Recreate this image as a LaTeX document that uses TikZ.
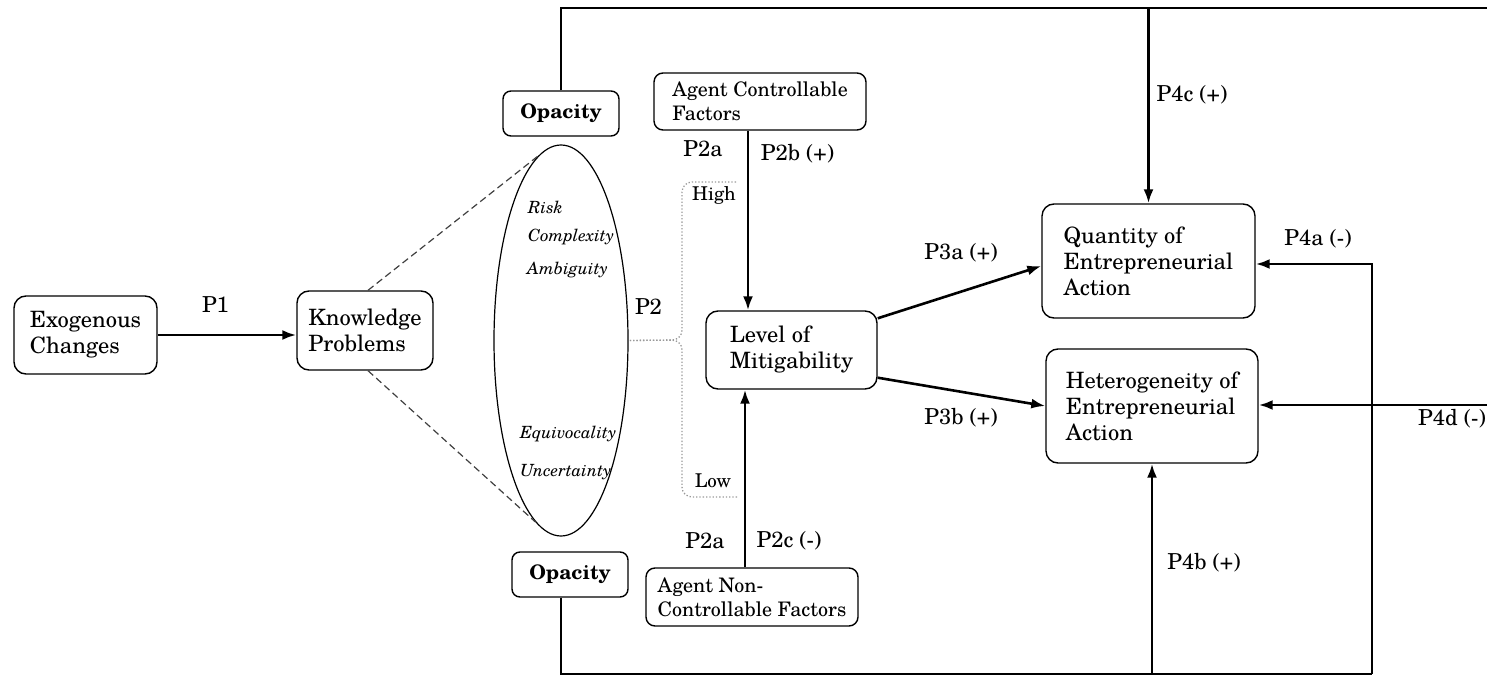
\documentclass[tikz,border=0pt]{standalone}
\usepackage{fontspec}
\setmainfont{TeX Gyre Schola}
\usetikzlibrary{shapes.geometric,arrows.meta,calc}
\begin{document}
\begin{tikzpicture}[x=1pt,y=-1pt,
  box/.style={draw, line width=1.4pt, rounded corners=12pt, align=left, inner sep=0pt,
              font=\fontsize{22.5}{26}\selectfont},
  factor/.style={box, rounded corners=9pt, font=\fontsize{20}{24}\selectfont},
  opbox/.style={box, rounded corners=8pt, align=center, font=\fontsize{20}{24}\selectfont\bfseries,
                minimum width=116pt, minimum height=45pt},
  kind/.style={anchor=west, inner sep=0pt, font=\fontsize{16.8}{19}\selectfont\itshape},
  lab/.style={inner sep=0pt, font=\fontsize{22}{26}\selectfont},
  level/.style={inner sep=0pt, font=\fontsize{19}{22}\selectfont},
  link/.style={line width=2.6pt},
  arr/.style={line width=2.6pt, -{Latex[length=14pt,width=10pt]}},
  brace/.style={dotted, line width=1.3pt, gray!80, rounded corners=10pt},
  guide/.style={dash pattern=on 7pt off 4pt, line width=1.2pt, gray!50!black}]
\useasboundingbox (0,0) rectangle (1487,676);

% main boxes
\node[box, minimum width=143pt, minimum height=78pt] (exo) at (85.5,335) {Exogenous\\Changes};
\node[box, minimum width=136pt, minimum height=79pt] (know) at (365,330.5) {Knowledge\\Problems};
\node[box, minimum width=171pt, minimum height=78pt] (mit) at (791.5,350) {Level of\\Mitigability};
\node[box, minimum width=213pt, minimum height=114pt] (qty) at (1148.5,261) {Quantity of\\Entrepreneurial\\Action};
\node[box, minimum width=212pt, minimum height=114pt] (het) at (1152,406) {Heterogeneity of\\Entrepreneurial\\Action};

% factor boxes
\node[factor, minimum width=212pt, minimum height=57pt] (acf) at (760,101.5) {Agent Controllable\\Factors};
\node[factor, minimum width=212pt, minimum height=58pt] (ancf) at (752,597) {Agent Non-\\Controllable Factors};

% opacity boxes
\node[opbox] (opT) at (561,113.5) {Opacity};
\node[opbox] (opB) at (570,574.5) {Opacity};

% the knowledge-problem spectrum
\node[draw, ellipse, line width=1.2pt, minimum width=134pt, minimum height=391pt, inner sep=0pt] (kp) at (561,340.5) {};
\node[kind] (risk) at (528,207) {Risk};
\node[kind] (cplx) at (528,237) {Complexity};
\node[kind] (ambi) at (527,270) {Ambiguity};
\node[kind] (equi) at (520,434) {Equivocality};
\node[kind] (unc) at (520,472) {Uncertainty};

\draw[guide] ([xshift=3pt]know.north) -- (kp.97.5);
\draw[guide] ([xshift=3pt]know.south) -- (kp.262.5);

% high / low bracket
\coordinate (hiEnd) at (736,182);
\coordinate (loEnd) at (737,497);
\draw[brace] (hiEnd) -- (682,182) -- (682,340) -- (kp.east);
\draw[brace] (loEnd) -- (682,497) -- (682,340) -- (kp.east);
\node[level] (high) at (714,195) {High};
\node[level] (low) at (713,481) {Low};

% causal arrows
\draw[arr] (exo.east) -- (exo.east -| know.west);
\draw[arr] ([xshift=-12pt]acf.south) -- ([xshift=-12pt]acf.south |- mit.north);
\draw[arr] ([xshift=-7pt]ancf.north) -- ([xshift=-7pt]ancf.north |- mit.south);
\draw[arr] ([yshift=-8pt]mit.north east) -- ([yshift=-5pt]qty.west);
\draw[arr] ([yshift=12pt]mit.south east) -- (het.west);

% opacity feedback lines
\coordinate (topR) at (1487,8);
\coordinate (botR) at (1372,674);
\coordinate (sideR) at (1487,405);
\draw[link] (opT.north) |- (topR);
\draw[arr] (qty.north |- topR) -- (qty.north);
\draw[link] ([xshift=-9pt]opB.south) |- (botR);
\draw[arr] (botR) |- ([yshift=-3pt]qty.east);
\draw[arr] (het.south |- botR) -- (het.south);
\draw[arr] (sideR) -- (sideR -| het.east);

% proposition labels
\node[lab] (p1) at (215.5,305) {P1};
\node[lab] (p2) at (648.5,307) {P2};
\node[lab] (p2aT) at (703,149) {P2a};
\node[lab] (p2b) at (797.5,154) {P2b (+)};
\node[lab] (p2aB) at (705,541) {P2a};
\node[lab] (p2c) at (789,541) {P2c (-)};
\node[lab] (p3a) at (961,253) {P3a (+)};
\node[lab] (p3b) at (961,418) {P3b (+)};
\node[lab] (p4c) at (1192,95) {P4c (+)};
\node[lab] (p4a) at (1318,239) {P4a (-)};
\node[lab] (p4d) at (1452,419) {P4d (-)};
\node[lab] (p4b) at (1204,563) {P4b (+)};
\end{tikzpicture}
\end{document}
